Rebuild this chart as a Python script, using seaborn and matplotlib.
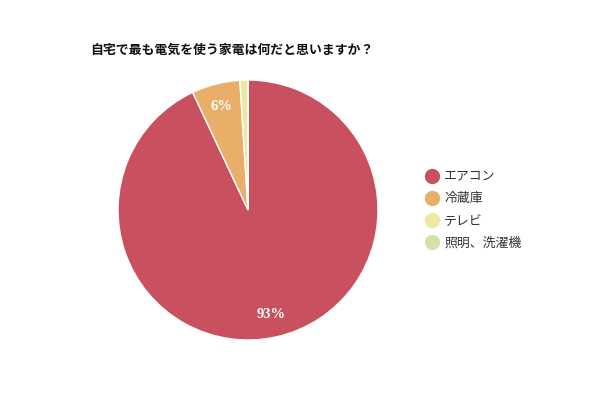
import matplotlib
matplotlib.use('Agg')
import matplotlib.pyplot as plt
import seaborn as sns
from matplotlib.lines import Line2D

sns.set_theme(style='white')
plt.rcParams['font.family'] = ['Noto Sans CJK JP', 'DejaVu Sans']

# Data
labels = ['エアコン', '冷蔵庫', 'テレビ', '照明、洗濯機']
values = [93, 6, 1, 0]
colors = ['#C9505E', '#E8AE6A', '#EEE8A2', '#D4E2AA']
title = '自宅で最も電気を使う家電は何だと思いますか？'

fig = plt.figure(figsize=(6, 4), dpi=100)
ax = fig.add_axes([0.1967, 0.15, 0.4333, 0.65])

def pct_label(p):
    return f'{p:.0f}%' if p >= 3 else ''

wedges, texts, autotexts = ax.pie(
    values, colors=colors, startangle=90, counterclock=False,
    autopct=pct_label, pctdistance=0.82,
    wedgeprops=dict(edgecolor='white', linewidth=1),
)
for t in autotexts:
    t.set_color('white')
    t.set_fontweight('bold')
    t.set_fontfamily('Liberation Serif')
    t.set_fontsize(10.5)
ax.set_xlim(-1, 1)
ax.set_ylim(-1, 1)
ax.set_aspect('equal')

# Title
fig.text(90 / 600, 1 - 50 / 400, title, fontsize=9.3, fontweight='bold',
         color='#111111', va='center', ha='left')

# Legend
handles = [Line2D([], [], marker='o', linestyle='', markersize=10,
                  markerfacecolor=c, markeredgecolor=c) for c in colors]
fig.legend(handles, labels, loc='center left',
           bbox_to_anchor=(419 / 600, 1 - 210 / 400), frameon=False,
           fontsize=9.3, labelcolor='#333333', handletextpad=0.35,
           labelspacing=0.72, borderaxespad=0, handlelength=1.2)

fig.savefig('out.png', dpi=100)
